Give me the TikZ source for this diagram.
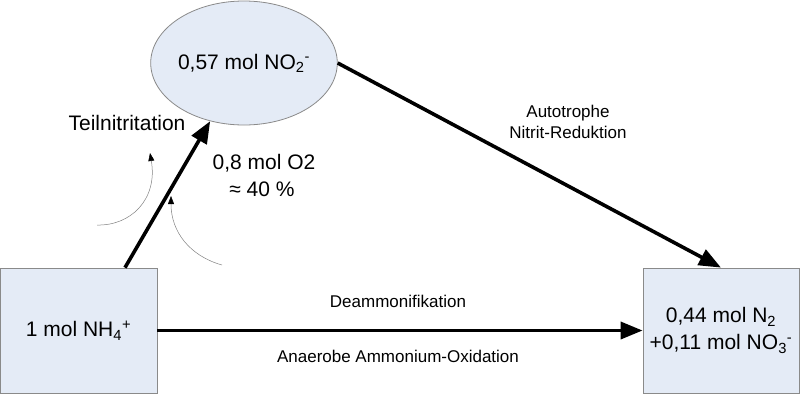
\documentclass[tikz,border=0pt]{standalone}
\usepackage{fontspec}
\setmainfont{Liberation Sans}
\usetikzlibrary{arrows.meta,shapes.geometric}
\definecolor{boxfill}{HTML}{E4EBF6}
\definecolor{boxline}{HTML}{8A8A8A}
\tikzset{
  statebox/.style={draw=boxline, fill=boxfill, line width=0.8pt, inner sep=0pt, align=center,
    font=\fontsize{21}{27}\selectfont},
  flow/.style={line width=3.6pt, -{Triangle[length=22pt,width=17pt]}},
  thin/.style={draw=gray, line width=0.5pt, -{Triangle[length=8pt,width=6pt,color=black,fill=black]}},
  biglabel/.style={font=\fontsize{21}{26}\selectfont, align=center, inner sep=0pt},
  smalllabel/.style={font=\fontsize{17}{21}\selectfont, align=center, inner sep=0pt},
}
\begin{document}
\begin{tikzpicture}[x=1pt,y=-1pt]
\useasboundingbox (0,0) rectangle (800,394);
\node[statebox, rectangle, minimum width=157pt, minimum height=125pt] (lb) at (78.5,330.5)
  {1 mol NH\textsubscript{4}\textsuperscript{+}};
\node[statebox, rectangle, minimum width=156pt, minimum height=125pt] (rb) at (721,330.5)
  {0,44 mol N\textsubscript{2}\\+0,11 mol NO\textsubscript{3}\textsuperscript{-}};
\node[statebox, ellipse, minimum width=154pt, minimum height=124pt] (ell) at (244,63)
  {0,57 mol NO\textsubscript{2}\textsuperscript{-}};

\coordinate (s1) at ([xshift=46.5pt]lb.north);
\draw[flow] (s1) -- (ell);
\draw[flow] (ell.east) -- (rb.north);
\draw[flow] (lb.east) -- (rb.west);

\node[biglabel] (teil) at (127,123) {Teilnitritation};
\node[biglabel] (o2) at (264,163) {0,8 mol O2};
\node[biglabel] (pct) at (262,189) {≈ 40 \%};
\node[smalllabel] (auto) at (568,122) {Autotrophe\\Nitrit-Reduktion};
\node[smalllabel] (deam) at (398,301) {Deammonifikation};
\node[smalllabel] (anae) at (398,356) {Anaerobe Ammonium-Oxidation};

\coordinate (c1s) at (97,225);
\coordinate (c1e) at (150,153);
\coordinate (c2s) at (222,265);
\coordinate (c2e) at (171,196);
\draw[thin] (c1s) .. controls (130,226) and (158,200) .. (c1e);
\draw[thin] (c2s) .. controls (190,256) and (171,232) .. (c2e);
\end{tikzpicture}
\end{document}
